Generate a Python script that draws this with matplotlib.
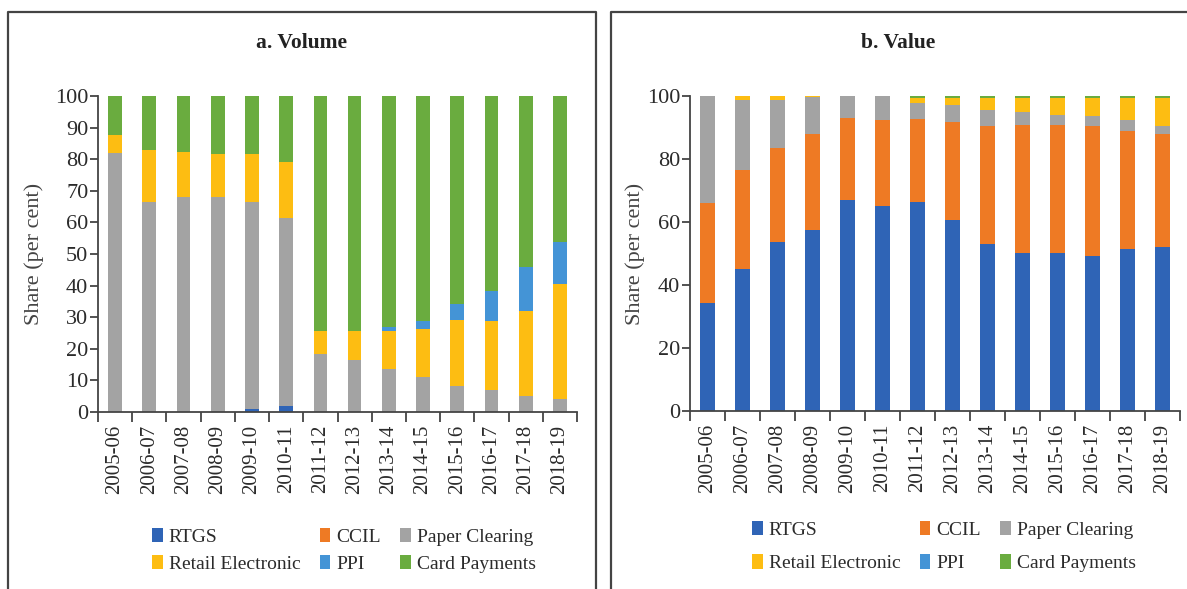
import numpy as np
import matplotlib
matplotlib.use("Agg")
import matplotlib.pyplot as plt
from matplotlib.lines import Line2D
from matplotlib.patches import Patch

years = ["2005-06", "2006-07", "2007-08", "2008-09", "2009-10", "2010-11", "2011-12",
         "2012-13", "2013-14", "2014-15", "2015-16", "2016-17", "2017-18", "2018-19"]

# share in volume (per cent)
vol_rtgs = [0, 0, 0, 0, 1.0, 1.8, 0, 0, 0, 0, 0, 0, 0, 0]
vol_ccil = [0, 0, 0, 0, 0, 0, 0, 0, 0, 0, 0, 0, 0, 0]
vol_paper = [82.0, 66.5, 67.9, 68.0, 65.4, 59.5, 18.3, 16.5, 13.5, 11.2, 8.3, 6.9, 5.1, 4.0]
vol_retail = [5.6, 16.4, 14.3, 13.6, 15.2, 17.7, 7.2, 9.0, 12.2, 15.0, 20.9, 21.8, 26.8, 36.5]
vol_ppi = [0, 0, 0, 0, 0, 0, 0, 0, 1.1, 2.7, 5.0, 9.7, 14.1, 13.4]
vol_card = [12.4, 17.1, 17.8, 18.4, 18.4, 21.0, 74.5, 74.5, 73.2, 71.1, 65.8, 61.6, 54.0, 46.1]

# share in value (per cent)
val_rtgs = [34.2, 45.0, 53.7, 57.5, 67.0, 65.2, 66.4, 60.6, 53.0, 50.3, 50.3, 49.2, 51.3, 52.0]
val_ccil = [31.7, 31.5, 29.7, 30.3, 25.9, 27.2, 26.3, 31.0, 37.6, 40.5, 40.5, 41.4, 37.6, 36.0]
val_paper = [34.1, 22.2, 15.3, 12.0, 7.1, 7.6, 5.0, 5.5, 5.0, 4.2, 3.2, 3.1, 3.5, 2.6]
val_retail = [0, 1.3, 1.3, 0.2, 0, 0, 1.6, 2.2, 3.7, 4.3, 5.3, 5.6, 6.9, 8.7]
val_ppi = [0, 0, 0, 0, 0, 0, 0, 0, 0, 0, 0, 0, 0, 0]
val_card = [0, 0, 0, 0, 0, 0, 0.7, 0.7, 0.7, 0.7, 0.7, 0.7, 0.7, 0.7]

names = ["RTGS", "CCIL", "Paper Clearing", "Retail Electronic", "PPI", "Card Payments"]
colors = ["#2f64b6", "#ee7a24", "#a3a3a3", "#fdbd12", "#4494d6", "#6aac3f"]

W, H = 1187, 589
plt.rcParams["font.family"] = ["Liberation Serif", "DejaVu Serif"]
fig = plt.figure(figsize=(W / 100, H / 100), dpi=100)

txt = "#2b2b2b"


def draw(ax, series, yticks, width):
    x = np.arange(len(years))
    bottom = np.zeros(len(years))
    for vals, c in zip(series, colors):
        vals = np.array(vals, dtype=float)
        ax.bar(x, vals, width=width, bottom=bottom, color=c, linewidth=0)
        bottom += vals
    ax.set_xlim(-0.5, len(years) - 0.5)
    ax.set_ylim(0, 100)
    ax.set_yticks(yticks)
    ax.set_xticks(x, years, rotation=90, fontsize=15, color=txt)
    ax.set_xticks(np.arange(-0.5, len(years)), minor=True)
    ax.tick_params(axis="x", which="major", length=0, pad=9)
    ax.tick_params(axis="x", which="minor", length=7, width=1.3, color="#444444")
    ax.tick_params(axis="y", length=6, width=1.3, color="#444444", pad=1,
                   labelsize=16, labelcolor=txt)
    for s in ["top", "right"]:
        ax.spines[s].set_visible(False)
    for s in ["left", "bottom"]:
        ax.spines[s].set_color("#444444")
        ax.spines[s].set_linewidth(1.3)
    ax.set_ylabel("Share (per cent)", fontsize=16, color="#444444")


def fx(px):
    return px / W


def fy(py):
    return 1 - py / H


ax1 = fig.add_axes([fx(98), fy(412), fx(479), 316 / H])
draw(ax1, [vol_rtgs, vol_ccil, vol_paper, vol_retail, vol_ppi, vol_card],
     range(0, 101, 10), 0.4)
ax1.yaxis.set_label_coords((44 - 98) / 479, 0.5)

ax2 = fig.add_axes([fx(690), fy(411), fx(490), 315 / H])
draw(ax2, [val_rtgs, val_ccil, val_paper, val_retail, val_ppi, val_card],
     range(0, 101, 20), 0.42)
ax2.yaxis.set_label_coords((645 - 690) / 490, 0.5)

fig.text(fx(302), fy(43), "a. Volume", fontsize=15.5, fontweight="bold",
         ha="center", va="center", color="#222222")
fig.text(fx(898), fy(43), "b. Value", fontsize=15.5, fontweight="bold",
         ha="center", va="center", color="#222222")

# legends: columns are RTGS/Retail, CCIL/PPI, Paper/Card
order = [0, 3, 1, 4, 2, 5]
handles = [Patch(facecolor=colors[i], linewidth=0) for i in order]
labels = [names[i] for i in order]
for ax, x0, y0, sp in [(ax1, 152, 528, 0.45), (ax2, 752, 521, 0.8)]:
    ax.legend(handles, labels, ncol=3, loc="upper left",
              bbox_to_anchor=(fx(x0), fy(y0)), bbox_transform=fig.transFigure,
              frameon=False, fontsize=14, handlelength=0.55, handleheight=0.75,
              handletextpad=0.3, columnspacing=1.0, labelspacing=sp,
              borderpad=0, borderaxespad=0, labelcolor=txt)

# panel frames
frame = dict(color="#444444", linewidth=1.6, transform=fig.transFigure)
fig.add_artist(Line2D([fx(8), fx(8), fx(596), fx(596)],
                      [fy(600), fy(12), fy(12), fy(600)], **frame))
fig.add_artist(Line2D([fx(611), fx(611), fx(1190)],
                      [fy(600), fy(12), fy(12)], **frame))

fig.savefig("out.png", dpi=100)
